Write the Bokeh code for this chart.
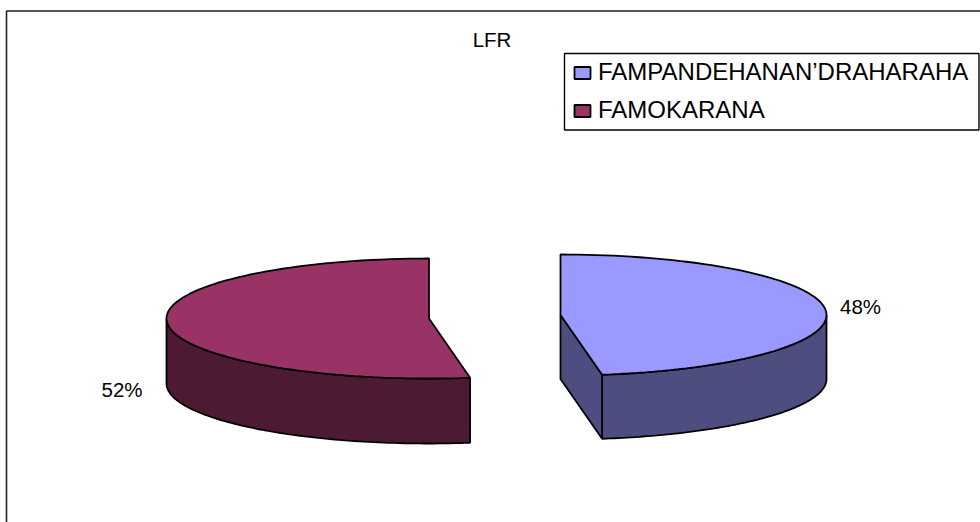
import numpy as np
from bokeh.core.properties import value
from bokeh.embed import file_html
from bokeh.models import Legend, LegendItem, Range1d
from bokeh.plotting import figure
from bokeh.resources import INLINE

# data
title_text = "LFR"
categories = ["FAMPANDEHANAN’DRAHARAHA", "FAMOKARANA"]
shares = [47.5, 52.5]
share_labels = ["48%", "52%"]
top_colors = ["#9999FF", "#993366"]
side_colors = ["#4D4D80", "#4D1A33"]

FONT = "Liberation Sans"
W, H = 980, 522

p = figure(width=W, height=H, output_backend="svg", toolbar_location=None,
           x_range=Range1d(0, W), y_range=Range1d(H, 0), min_border=0,
           x_axis_location=None, y_axis_location=None, tools="")
p.grid.visible = False
p.outline_line_color = None
p.background_fill_color = "white"

# chart-area frame: only top and left edges fall inside the picture
p.line([6, 6, W], [H, 10.5, 10.5], line_color="#222222", line_width=1.6)


def ellipse(cx, cy, a, b, start, stop, n=90):
    """Angles in degrees, clockwise from 12 o'clock."""
    t = np.radians(np.linspace(start, stop, n))
    return cx + a * np.sin(t), cy - b * np.cos(t)


LW = 1.8
angle_0 = shares[0] / sum(shares) * 360

# right slice (first category), starts at 12 o'clock
cx, cy, a, b, depth = 560, 314.5, 266, 60.5, 64
tx, ty = ellipse(cx, cy, a, b, 0, angle_0)
sx, sy = ellipse(cx, cy, a, b, 90, angle_0)
wall_x = list(sx) + list(sx[::-1])
wall_y = list(sy) + list(sy[::-1] + depth)
p.patch(wall_x, wall_y, fill_color=side_colors[0], line_color="black", line_width=LW)
cut_x = [cx, tx[-1], tx[-1], cx]
cut_y = [cy, ty[-1], ty[-1] + depth, cy + depth]
p.patch(cut_x, cut_y, fill_color=side_colors[0], line_color="black", line_width=LW)
top_right = p.patch([cx] + list(tx), [cy] + list(ty), fill_color=top_colors[0],
                    line_color="black", line_width=LW)

# left slice (second category)
cx2, cy2, a2, b2, depth2 = 428.5, 318, 262.5, 60, 65
tx, ty = ellipse(cx2, cy2, a2, b2, angle_0, 360)
sx, sy = ellipse(cx2, cy2, a2, b2, angle_0, 270)
wall_x = list(sx) + list(sx[::-1])
wall_y = list(sy) + list(sy[::-1] + depth2)
p.patch(wall_x, wall_y, fill_color=side_colors[1], line_color="black", line_width=LW)
top_left = p.patch([cx2] + list(tx), [cy2] + list(ty), fill_color=top_colors[1],
                   line_color="black", line_width=LW)

# texts
p.text([491.5], [39], text=[title_text], text_font=value(FONT), text_font_size="20.5px",
       text_align="center", text_baseline="middle", text_color="black")
p.text([860, 121.5], [306, 389], text=share_labels, text_font=value(FONT),
       text_font_size="20.5px", text_align="center", text_baseline="middle",
       text_color="black")

# legend box, wider than the legend's own padding would make it
p.quad(left=[564], right=[978.5], top=[53], bottom=[129.5], fill_color="white",
       line_color="black", line_width=1.4)
legend = Legend(
    items=[LegendItem(label=categories[0], renderers=[top_right]),
           LegendItem(label=categories[1], renderers=[top_left])],
    location=(572, H - 124), orientation="vertical", margin=0, padding=5, spacing=10,
    glyph_width=20, glyph_height=15, label_standoff=6,
    label_text_font=FONT, label_text_font_size="24px", label_text_color="black",
    border_line_color=None, background_fill_alpha=0.0,
)
p.add_layout(legend, "center")

open("out.html", "w").write(file_html(p, INLINE))
